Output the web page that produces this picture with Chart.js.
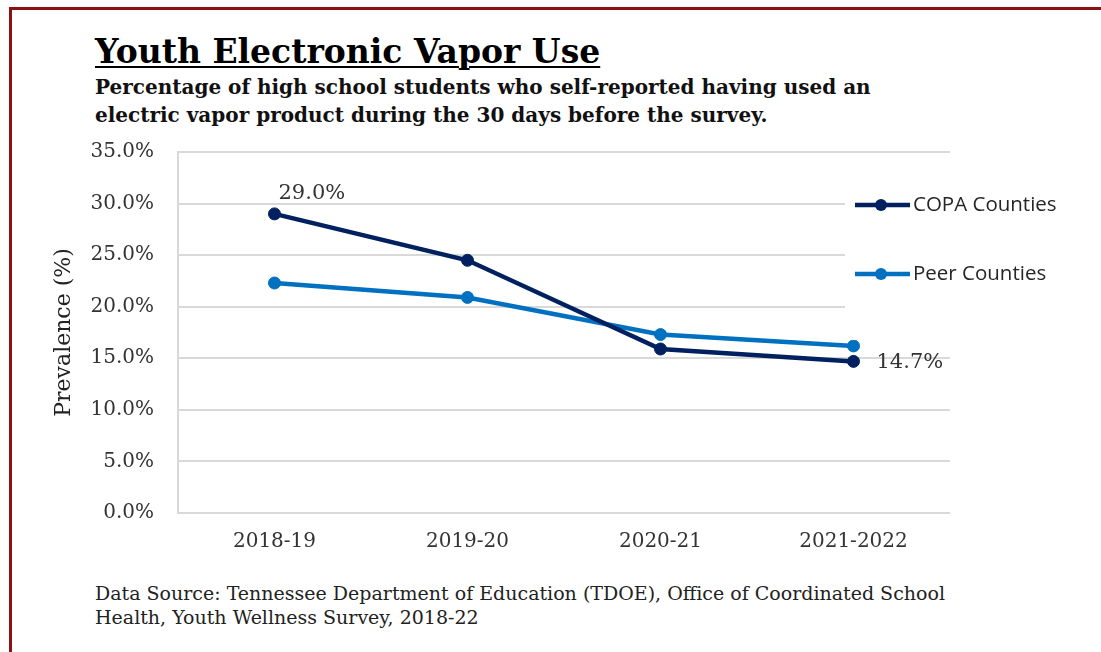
<!DOCTYPE html>
<html>
<head>
<meta charset="utf-8">
<title>Youth Electronic Vapor Use</title>
<script src="https://cdn.jsdelivr.net/npm/chart.js@4"></script>
<style>
    html, body {
        margin: 0;
        padding: 0;
        background: #ffffff;
    }
    #page {
        position: relative;
        width: 1101px;
        height: 652px;
        overflow: hidden;
        font-family: 'DejaVu Serif', serif;
    }
    .frame {
        position: absolute;
        left: 9px;
        top: 7px;
        width: 1200px;
        height: 700px;
        border-top: 3px solid #8b1212;
        border-left: 3px solid #8b1212;
        box-shadow: 1px 1px 2px rgba(0, 0, 0, 0.25);
    }
    .title {
        position: absolute;
        left: 95px;
        top: 32px;
        font-size: 33px;
        line-height: 40px;
        font-weight: bold;
        text-decoration: underline;
        text-underline-offset: 3px;
        text-decoration-thickness: 2px;
        color: #000;
        white-space: nowrap;
    }
    .subtitle {
        position: absolute;
        left: 95px;
        top: 73px;
        font-size: 20px;
        font-weight: bold;
        line-height: 28px;
        color: #111;
        white-space: nowrap;
    }
    .source {
        position: absolute;
        left: 95px;
        top: 581px;
        font-size: 19px;
        line-height: 24px;
        color: #222;
        white-space: nowrap;
    }
    #chartBox {
        position: absolute;
        left: 0;
        top: 0;
        width: 1101px;
        height: 652px;
    }
</style>
</head>
<body>
<div id="page">
    <div class="frame"></div>
    <div class="title">Youth Electronic Vapor Use</div>
    <div class="subtitle">Percentage of high school students who self-reported having used an<br>electric vapor product during the 30 days before the survey.</div>
    <div class="source">Data Source: Tennessee Department of Education (TDOE), Office of Coordinated School<br>Health, Youth Wellness Survey, 2018-22</div>
    <div id="chartBox"><canvas id="vaporChart"></canvas></div>
</div>

<script>
    // survey years and prevalence (%) per group
    const years = ["2018-19", "2019-20", "2020-21", "2021-2022"];
    const copaCounties = [29.0, 24.5, 15.9, 14.7];
    const peerCounties = [22.3, 20.9, 17.3, 16.2];
    const yTicks = [0, 5, 10, 15, 20, 25, 30, 35];

    // only these points get a value label: [dataset, index, dx, dy]
    const valueLabels = [[0, 0, 4, -20], [0, 3, 23, 1]];

    const tickFont = { family: "'DejaVu Serif', serif", size: 20 };

    // labels next to selected points
    const pointLabels = {
        id: "pointLabels",
        afterDatasetsDraw(chart) {
            const ctx = chart.ctx;
            ctx.save();
            ctx.font = "21px 'DejaVu Serif', serif";
            ctx.fillStyle = "#333333";
            ctx.textAlign = "left";
            ctx.textBaseline = "middle";
            valueLabels.forEach(([ds, i, dx, dy]) => {
                const pt = chart.getDatasetMeta(ds).data[i];
                const value = chart.data.datasets[ds].data[i];
                ctx.fillText(value.toFixed(1) + "%", pt.x + dx, pt.y + dy);
            });
            ctx.restore();
        }
    };

    // legend sits inside the plot area on a white patch
    const sideLegend = {
        id: "sideLegend",
        afterDraw(chart) {
            const ctx = chart.ctx;
            const area = chart.chartArea;
            ctx.save();
            ctx.fillStyle = "#ffffff";
            ctx.fillRect(area.right - 105, area.top + 16, 200, 172);
            ctx.font = "20.5px 'Open Sans', sans-serif";
            ctx.textBaseline = "middle";
            chart.data.datasets.forEach((ds, k) => {
                const y = area.top + 53 + k * 69;
                const x0 = area.right - 95;
                ctx.strokeStyle = ds.borderColor;
                ctx.lineWidth = 4.5;
                ctx.beginPath();
                ctx.moveTo(x0, y);
                ctx.lineTo(x0 + 55, y);
                ctx.stroke();
                ctx.fillStyle = ds.borderColor;
                ctx.beginPath();
                ctx.arc(x0 + 26, y, 6, 0, Math.PI * 2);
                ctx.fill();
                ctx.fillStyle = "#262626";
                ctx.fillText(ds.label, x0 + 58, y);
            });
            ctx.restore();
        }
    };

    new Chart(document.getElementById("vaporChart"), {
        type: "line",
        data: {
            labels: years,
            datasets: [
                {
                    label: "COPA Counties",
                    data: copaCounties,
                    borderColor: "#002060",
                    backgroundColor: "#002060",
                    borderWidth: 4.5,
                    pointRadius: 6,
                    pointBorderWidth: 1
                },
                {
                    label: "Peer Counties",
                    data: peerCounties,
                    borderColor: "#0070c0",
                    backgroundColor: "#0070c0",
                    borderWidth: 4.5,
                    pointRadius: 6,
                    pointBorderWidth: 1
                }
            ]
        },
        options: {
            responsive: true,
            maintainAspectRatio: false,
            animation: false,
            layout: { padding: { left: 47, top: 152, right: 151, bottom: 0 } },
            plugins: {
                legend: { display: false },
                tooltip: { enabled: false }
            },
            scales: {
                x: {
                    offset: true,
                    grid: { display: false, drawTicks: false },
                    border: { display: false },
                    ticks: { color: "#333333", font: tickFont, padding: 17 },
                    afterFit(scale) { scale.height = 139; }
                },
                y: {
                    min: 0,
                    max: 35,
                    afterBuildTicks(scale) { scale.ticks = yTicks.map(v => ({ value: v })); },
                    grid: { color: "#d9d9d9", lineWidth: 2, drawTicks: false },
                    border: { display: true, color: "#d9d9d9", width: 2 },
                    ticks: {
                        color: "#333333",
                        font: tickFont,
                        padding: 24,
                        callback: v => v.toFixed(1) + "%"
                    },
                    title: {
                        display: true,
                        text: "Prevalence (%)",
                        color: "#222222",
                        font: { family: "'DejaVu Serif', serif", size: 22 }
                    },
                    afterFit(scale) { scale.width = 131; }
                }
            }
        },
        plugins: [pointLabels, sideLegend]
    });
</script>
</body>
</html>
